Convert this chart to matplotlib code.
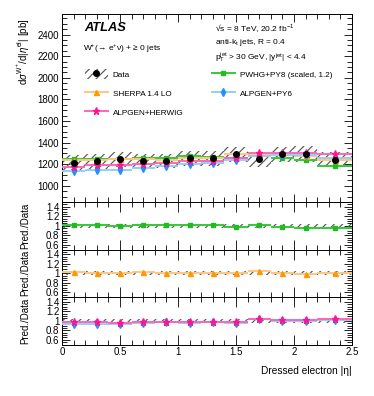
import numpy as np
import matplotlib

matplotlib.use("Agg")
from matplotlib import pyplot as plt
from matplotlib.lines import Line2D
from matplotlib.patches import Patch
from matplotlib.ticker import MultipleLocator, FormatStrFormatter

plt.rcParams["font.family"] = ["Liberation Sans", "DejaVu Sans"]
plt.rcParams["mathtext.fontset"] = "custom"
plt.rcParams["mathtext.rm"] = "Liberation Sans"
plt.rcParams["mathtext.it"] = "Liberation Sans:italic"
plt.rcParams["hatch.linewidth"] = 0.85

# bins in dressed electron |eta|
eta_edges = [0.0, 0.2, 0.4, 0.6, 0.8, 1.0, 1.2, 1.4, 1.6, 1.8, 2.0, 2.2, 2.5]

# dsigma/d|eta| [pb]
data = [1215, 1225, 1245, 1230, 1230, 1255, 1255, 1290, 1245, 1290, 1295, 1240]
data_rel_unc = [0.055] * 12
pwhg_py8 = [1245, 1250, 1245, 1255, 1255, 1280, 1268, 1260, 1275, 1255, 1240, 1185]
sherpa = [1240, 1240, 1245, 1250, 1240, 1255, 1260, 1290, 1295, 1290, 1275, 1240]
alpgen_herwig = [1175, 1190, 1190, 1200, 1210, 1225, 1225, 1255, 1300, 1300, 1305, 1290]
alpgen_py6 = [1140, 1145, 1150, 1165, 1185, 1205, 1210, 1235, 1280, 1285, 1285, 1260]

models = {
    "pwhg": dict(y=pwhg_py8, label="PWHG+PY8 (scaled, 1.2)", line="#33cc33",
                 mc="#22bb22", marker="s", ms=3.0),
    "sherpa": dict(y=sherpa, label="SHERPA 1.4 LO", line="#ffc680",
                   mc="#ff9900", marker="^", ms=3.6),
    "herwig": dict(y=alpgen_herwig, label="ALPGEN+HERWIG", line="#ff66b8",
                   mc="#ff1493", marker="*", ms=5.2),
    "py6": dict(y=alpgen_py6, label="ALPGEN+PY6", line="#90d0fa",
                mc="#1e90ff", marker="d", ms=3.8),
}

edges = np.array(eta_edges)
centers = 0.5 * (edges[1:] + edges[:-1])
data = np.array(data, float)
unc = np.array(data_rel_unc) * data

W, H = 374, 396
fig = plt.figure(figsize=(W / 100, H / 100), dpi=100)


def px_axes(top, bottom):
    return fig.add_axes([62 / W, 1 - bottom / H, 290 / W, (bottom - top) / H])


ax = px_axes(14, 202)
ratio_axes = [px_axes(202, 249.5), px_axes(249.5, 297), px_axes(297, 344.5)]


def draw_model(axis, m, y):
    axis.hlines(y, edges[:-1], edges[1:], color=m["line"], lw=1.4, zorder=3)
    axis.plot(centers, y, ls="none", marker=m["marker"], ms=m["ms"],
              color=m["mc"], mec=m["mc"], zorder=4)


def style(axis):
    axis.tick_params(which="both", direction="in", top=True, right=True,
                     labelsize=7, pad=2, width=0.6)
    axis.tick_params(which="major", length=6)
    axis.tick_params(which="minor", length=3.5)
    axis.xaxis.set_major_locator(MultipleLocator(0.5))
    axis.xaxis.set_minor_locator(MultipleLocator(0.1))
    axis.set_xlim(0, 2.5)
    for s in axis.spines.values():
        s.set_linewidth(0.7)


# main panel
ax.stairs(data + unc, edges, baseline=data - unc, fill=True, hatch="////",
          facecolor="none", edgecolor="0.35", lw=0, zorder=2)
for key in ["pwhg", "sherpa", "py6", "herwig"]:
    draw_model(ax, models[key], np.array(models[key]["y"], float))
ax.plot(centers, data, "o", color="k", ms=4, zorder=5)
style(ax)
ax.set_ylim(850, 2590)
ax.yaxis.set_major_locator(MultipleLocator(200))
ax.yaxis.set_minor_locator(MultipleLocator(50))
ax.tick_params(labelbottom=False)
ax.set_ylabel(r"d$\sigma^{\mathrm{W^{+}}}$/d|$\eta^{\mathrm{el}}$| [pb]", fontsize=7)

# ratio panels
panel_models = [["pwhg"], ["sherpa"], ["py6", "herwig"]]
for rax, keys in zip(ratio_axes, panel_models):
    rel = np.array(data_rel_unc) * 0.8
    rax.stairs(1 + rel, edges, baseline=1 - rel, fill=True, hatch="////",
               facecolor="none", edgecolor="0.35", lw=0, zorder=2)
    for key in keys:
        draw_model(rax, models[key], np.array(models[key]["y"], float) / data)
    style(rax)
    rax.set_ylim(0.5, 1.5)
    rax.set_yticks([0.6, 0.8, 1.0, 1.2, 1.4])
    rax.yaxis.set_minor_locator(MultipleLocator(0.05))
    rax.yaxis.set_major_formatter(FormatStrFormatter("%g"))
    rax.set_ylabel("Pred./Data", fontsize=7)
    rax.yaxis.set_label_coords(-0.11, 0.5)
    rax.tick_params(which="major", axis="x", length=7)
    if rax is not ratio_axes[-1]:
        rax.tick_params(labelbottom=False)

ax.yaxis.set_label_coords(-0.105, 0.8)
ratio_axes[-1].xaxis.set_major_formatter(FormatStrFormatter("%g"))
ratio_axes[-1].set_xlabel("Dressed electron |η|", fontsize=7.3, loc="right", labelpad=6)

# text
fig.text(84 / W, 1 - 28 / H, "ATLAS", fontsize=9.3, weight="bold", style="italic", va="center")
fig.text(83 / W, 1 - 49 / H, r"W$^{+}$(→ e$^{+}$ν) + ≥ 0 jets", fontsize=6, va="center")
fig.text(215 / W, 1 - 28 / H, r"√s = 8 TeV, 20.2 fb$^{-1}$", fontsize=6, va="center")
fig.text(215 / W, 1 - 43 / H, r"anti-k$_{\mathrm{t}}$ jets, R = 0.4", fontsize=6, va="center")
fig.text(215 / W, 1 - 58 / H,
         r"p$_{\mathrm{T}}^{\mathrm{jet}}$ > 30 GeV, |y$^{\mathrm{jet}}$| < 4.4",
         fontsize=6, va="center")


# legends
def model_handle(m):
    return Line2D([], [], color=m["line"], lw=1.4, marker=m["marker"], ms=m["ms"],
                  mfc=m["mc"], mec=m["mc"])


data_handle = (Patch(facecolor="none", edgecolor="0.35", hatch="////", lw=0),
               Line2D([], [], ls="none", marker="o", color="k", ms=4))
leg_kw = dict(frameon=False, fontsize=5.9, borderpad=0, borderaxespad=0,
              handlelength=2.8, handleheight=1.5, handletextpad=0.6,
              labelspacing=1.1, loc="upper left")
fig.legend([data_handle, model_handle(models["sherpa"]), model_handle(models["herwig"])],
           ["Data", "SHERPA 1.4 LO", "ALPGEN+HERWIG"],
           bbox_to_anchor=(85 / W, 1 - 69 / H), **leg_kw)
fig.legend([model_handle(models["pwhg"]), model_handle(models["py6"])],
           [models["pwhg"]["label"], models["py6"]["label"]],
           bbox_to_anchor=(212 / W, 1 - 69 / H), **leg_kw)

fig.savefig("out.png", dpi=100)
